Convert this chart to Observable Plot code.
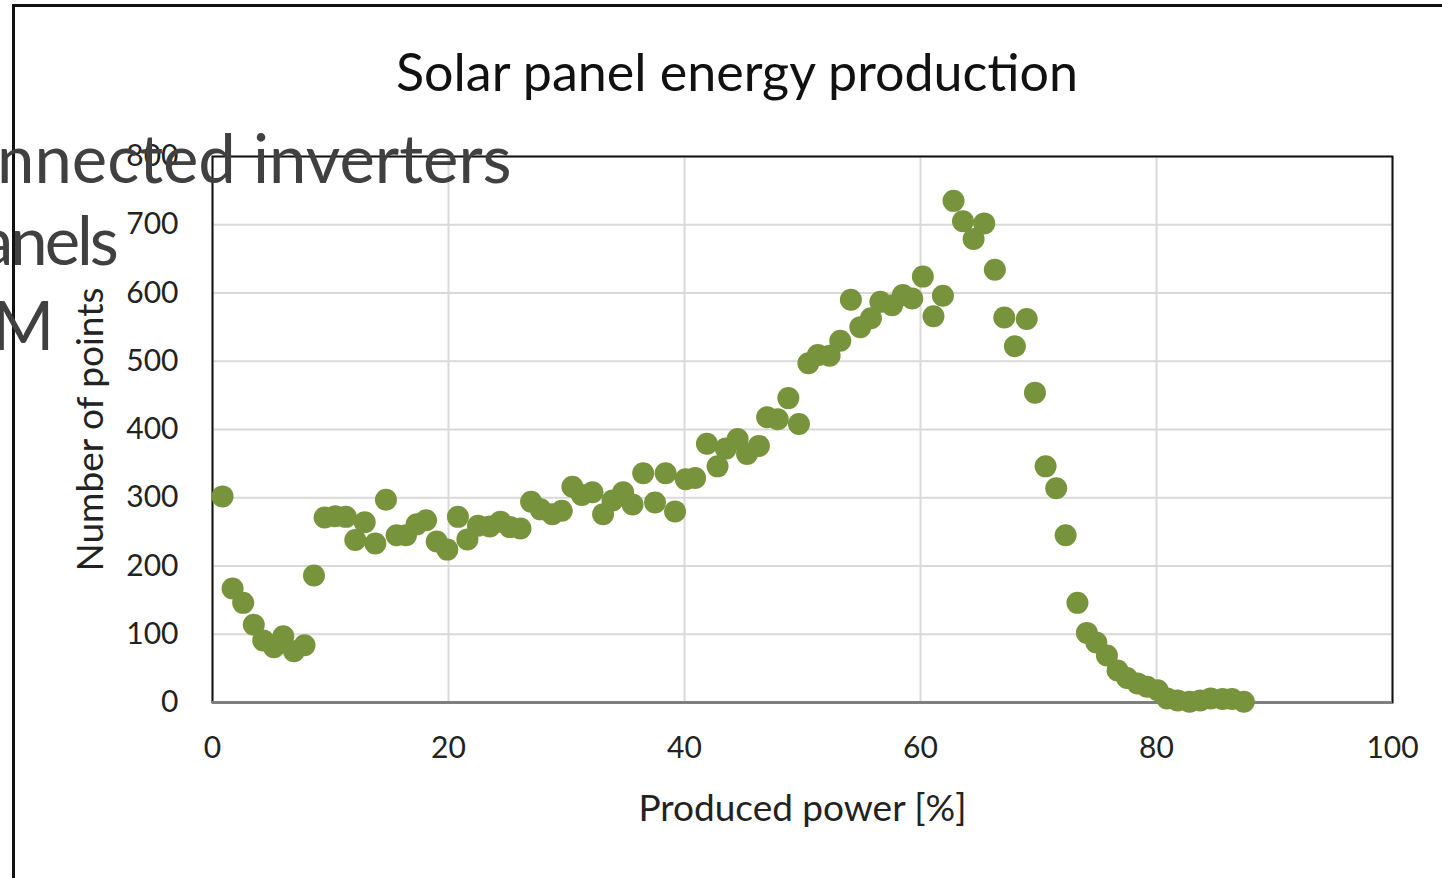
<!DOCTYPE html>
<html>
<head>
<meta charset="utf-8">
<script src="https://cdn.jsdelivr.net/npm/d3@7"></script>
<script src="https://cdn.jsdelivr.net/npm/@observablehq/plot@0.6"></script>
<style>
  html, body { margin: 0; padding: 0; background: #fff; overflow: hidden; }
  #wrap { position: relative; width: 1442px; height: 878px; overflow: hidden; font-family: Lato, "Open Sans", sans-serif; }
  #wrap svg { position: absolute; left: 0; top: 0; }
  .frameTop { position: absolute; left: 12px; top: 4px; width: 1440px; height: 0; border-top: 3px solid #111; }
  .frameLeft { position: absolute; left: 12px; top: 4px; width: 0; height: 880px; border-left: 3px solid #111; }
  .title { position: absolute; left: 0; width: 1474px; top: 40px; text-align: center; font-size: 52px; color: #111; line-height: normal; }
  .ov { position: absolute; font-size: 67px; color: #404040; white-space: nowrap; line-height: 1; }
</style>
</head>
<body>
<div id="wrap">
  <div class="frameTop"></div>
  <div class="frameLeft"></div>
  <div class="title">Solar panel energy production</div>
</div>
<script>
// Produced power [%]
const power = [0.85, 1.7, 2.6, 3.5, 4.3, 5.2, 6.0, 6.9, 7.8, 8.6, 9.5, 10.4, 11.3, 12.1, 12.9, 13.8, 14.7, 15.6, 16.4, 17.3, 18.1, 19.0, 19.9,
  20.8, 21.6, 22.5, 23.5, 24.4, 25.2, 26.1, 27.0, 27.8, 28.8, 29.6, 30.5, 31.3, 32.2, 33.1, 33.9, 34.8, 35.6, 36.5, 37.5, 38.4, 39.2, 40.1, 40.9,
  41.9, 42.8, 43.5, 44.5, 45.3, 46.3, 47.0, 47.9, 48.8, 49.7, 50.5, 51.3, 52.3, 53.2, 54.1, 54.9, 55.8, 56.6, 57.6, 58.5, 59.3, 60.2, 61.1, 61.9,
  62.8, 63.6, 64.5, 65.4, 66.3, 67.1, 68.0, 69.0, 69.7, 70.6, 71.5, 72.3, 73.3, 74.1, 74.9, 75.8, 76.7, 77.5, 78.4, 79.2, 80.1, 80.9, 81.8,
  82.8, 83.7, 84.6, 85.6, 86.4, 87.4];
// Number of points
const counts = [302, 167, 146, 114, 91, 81, 97, 75, 84, 186, 271, 273, 272, 238, 264, 233, 297, 245, 245, 261, 267, 236, 224,
  272, 239, 259, 258, 265, 257, 255, 294, 283, 276, 281, 316, 304, 308, 276, 296, 308, 290, 336, 293, 336, 280, 327, 329,
  379, 346, 372, 386, 364, 376, 418, 415, 446, 408, 497, 509, 508, 530, 590, 550, 563, 587, 582, 597, 592, 624, 566, 596,
  735, 705, 679, 702, 634, 564, 522, 562, 454, 346, 314, 245, 146, 102, 88, 69, 47, 36, 28, 23, 18, 6, 3,
  1, 3, 6, 5, 5, 1];
const xTicks = [0, 20, 40, 60, 80, 100];
const yTicks = [0, 100, 200, 300, 400, 500, 600, 700, 800];
const overlayLines = ["nnected inverters", "anels", "M"];

const data = power.map((p, i) => ({power: p, count: counts[i]}));

const chart = Plot.plot({
  width: 1442,
  height: 878,
  marginLeft: 212,
  marginRight: 50,
  marginTop: 156,
  marginBottom: 176,
  style: {fontFamily: "Lato, 'Open Sans', sans-serif", color: "#222", background: "transparent", overflow: "visible"},
  x: {domain: [0, 100], ticks: xTicks, label: null},
  y: {domain: [0, 800], ticks: yTicks, label: null},
  marks: [
    Plot.gridX(xTicks, {stroke: "#d9d9d9", strokeOpacity: 1, strokeWidth: 2}),
    Plot.gridY(yTicks, {stroke: "#d9d9d9", strokeOpacity: 1, strokeWidth: 2}),
    Plot.axisX(xTicks, {tickSize: 0, tickPadding: 34, fontSize: 30, fill: "#222"}),
    Plot.axisY(yTicks, {tickSize: 0, tickPadding: 34, fontSize: 30, fill: "#222"}),
    Plot.axisX({ticks: [], label: "Produced power [%]", labelAnchor: "center", labelArrow: "none", labelOffset: 118, fontSize: 37, fill: "#222"}),
    Plot.axisY({ticks: [], label: "Number of points", labelAnchor: "center", labelArrow: "none", labelOffset: 136, fontSize: 37, fill: "#222"}),
    Plot.frame({stroke: "#111", strokeWidth: 2}),
    Plot.ruleY([0], {stroke: "#7f7f7f", strokeWidth: 3}),
    Plot.dot(data, {x: "power", y: "count", r: 11, fill: "#77933c", stroke: "none"})
  ]
});
const wrap = document.getElementById("wrap");
wrap.insertBefore(chart, wrap.firstChild);

overlayLines.forEach((t, i) => {
  const d = document.createElement("div");
  d.className = "ov";
  d.textContent = t;
  d.style.left = [-3, -20, -8][i] + "px";
  d.style.top = [124, 206, 291][i] + "px";
  d.style.letterSpacing = ["0px", "-3px", "0px"][i];
  wrap.appendChild(d);
});
</script>
</body>
</html>
